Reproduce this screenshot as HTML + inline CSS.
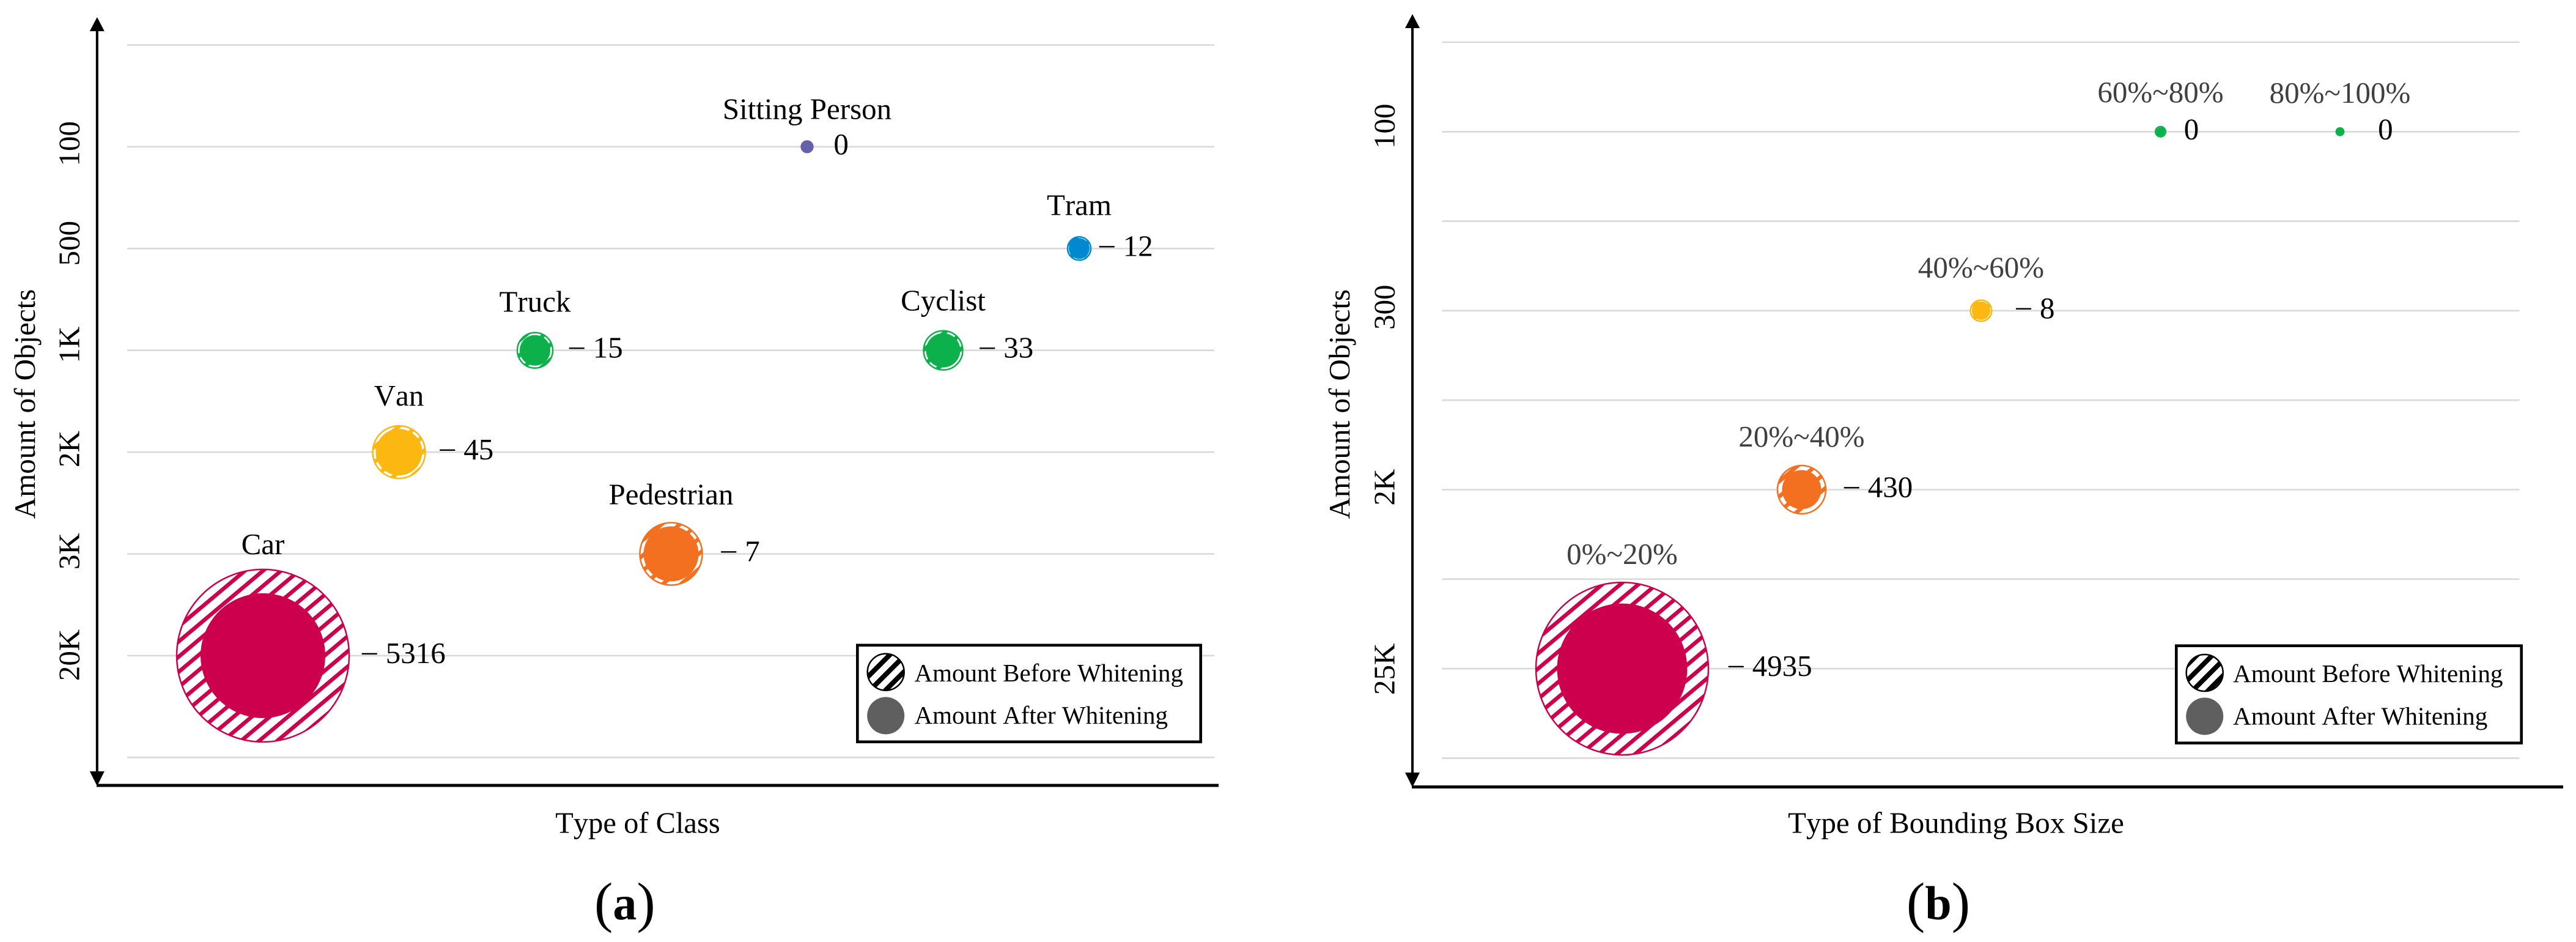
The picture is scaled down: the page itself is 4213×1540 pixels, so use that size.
<!DOCTYPE html>
<html lang="en">
<head>
<meta charset="utf-8">
<title>Amount of Objects Before and After Whitening</title>
<style>
  html, body { margin: 0; padding: 0; background: #fff; }
  svg { display: block; }
  text { font-family: "Liberation Serif", "Times New Roman", serif; fill: #000; font-kerning: none; }
</style>
</head>
<body>
<svg id="figure" xmlns="http://www.w3.org/2000/svg" width="4213" height="1540" viewBox="0 0 4213 1540">
  <defs>
    <pattern id="hatch-crimson" width="19" height="20" patternUnits="userSpaceOnUse" patternTransform="rotate(50)"><rect width="19" height="20" fill="#fff"/><rect width="6.5" height="20" fill="#CC004C"/></pattern>
    <pattern id="hatch-orange" width="19" height="20" patternUnits="userSpaceOnUse" patternTransform="rotate(50)"><rect width="19" height="20" fill="#fff"/><rect width="6.5" height="20" fill="#F37021"/></pattern>
    <pattern id="hatch-yellow" width="19" height="20" patternUnits="userSpaceOnUse" patternTransform="rotate(50)"><rect width="19" height="20" fill="#fff"/><rect width="6.5" height="20" fill="#FCB711"/></pattern>
    <pattern id="hatch-green" width="19" height="20" patternUnits="userSpaceOnUse" patternTransform="rotate(50)"><rect width="19" height="20" fill="#fff"/><rect width="6.5" height="20" fill="#0DB14B"/></pattern>
    <pattern id="hatch-blue" width="19" height="20" patternUnits="userSpaceOnUse" patternTransform="rotate(50)"><rect width="19" height="20" fill="#fff"/><rect width="6.5" height="20" fill="#0089D0"/></pattern>
    <pattern id="hatch-purple" width="19" height="20" patternUnits="userSpaceOnUse" patternTransform="rotate(50)"><rect width="19" height="20" fill="#fff"/><rect width="6.5" height="20" fill="#6460AA"/></pattern>
    <pattern id="hatch-black" width="18" height="20" patternUnits="userSpaceOnUse" patternTransform="rotate(45)"><rect width="18" height="20" fill="#fff"/><rect width="8" height="20" fill="#000"/></pattern>
  </defs>

  <g id="panel-a">
    <g id="a-grid"></g>
    <g id="a-ticks"></g>
    <g>
      <line x1="158.8" y1="40" x2="158.8" y2="1270" stroke="#000" stroke-width="4"/>
      <polygon points="158.8,28 146.8,51 170.8,51" fill="#000"/>
      <polygon points="158.8,1285 146.8,1261 170.8,1261" fill="#000"/>
    </g>
    <line x1="158" y1="1284" x2="1993" y2="1284" stroke="#000" stroke-width="5"/>
    <text transform="translate(57,660.5) rotate(-90)" text-anchor="middle" font-size="49">Amount of Objects</text>
    <text x="1043" y="1361.5" text-anchor="middle" font-size="48.5">Type of Class</text>
    <g id="a-bubbles"></g>
    <g>
      <rect x="1402.3" y="1054.8" width="561.4" height="158" fill="#fff" stroke="#000" stroke-width="4.6"/>
      <g>
        <circle cx="1448.7" cy="1098.7" r="30" fill="url(#hatch-black)" stroke="#000" stroke-width="2.5"/>
        <text x="1495.5" y="1113.8" font-size="41">Amount Before Whitening</text>
      </g>
      <g>
        <circle cx="1448.7" cy="1170" r="30.5" fill="#5F5F5F"/>
        <text x="1495.5" y="1183" font-size="41">Amount After Whitening</text>
      </g>
    </g>
    <text x="972" y="1506"><tspan font-size="91">(</tspan><tspan font-size="78" font-weight="bold" dy="-3">a</tspan><tspan font-size="91" dy="3">)</tspan></text>
  </g>

  <g id="panel-b">
    <g id="b-grid"></g>
    <g id="b-ticks"></g>
    <g>
      <line x1="2310" y1="35" x2="2310" y2="1272" stroke="#000" stroke-width="4"/>
      <polygon points="2310,23 2298,46 2322,46" fill="#000"/>
      <polygon points="2310,1287 2298,1263 2322,1263" fill="#000"/>
    </g>
    <line x1="2309" y1="1286.5" x2="4192" y2="1286.5" stroke="#000" stroke-width="5"/>
    <text transform="translate(2207,660.7) rotate(-90)" text-anchor="middle" font-size="49">Amount of Objects</text>
    <text x="3199" y="1361.5" text-anchor="middle" font-size="49">Type of Bounding Box Size</text>
    <g id="b-bubbles"></g>
    <g>
      <rect x="3559.3" y="1055.7" width="564.4" height="159" fill="#fff" stroke="#000" stroke-width="4.6"/>
      <g>
        <circle cx="3605.7" cy="1100" r="30" fill="url(#hatch-black)" stroke="#000" stroke-width="2.5"/>
        <text x="3652" y="1114.8" font-size="41.2">Amount Before Whitening</text>
      </g>
      <g>
        <circle cx="3605.7" cy="1171" r="30.5" fill="#5F5F5F"/>
        <text x="3652" y="1184.6" font-size="41.2">Amount After Whitening</text>
      </g>
    </g>
    <text x="3118" y="1506"><tspan font-size="91">(</tspan><tspan font-size="78" font-weight="bold" dy="-3">b</tspan><tspan font-size="91" dy="3">)</tspan></text>
  </g>
</svg>

<script>
// Panel (a): object class data
const classCategories = ["Car", "Van", "Truck", "Pedestrian", "Sitting Person", "Cyclist", "Tram"];
const classLevels = ["20K", "2K", "1K", "3K", "100", "1K", "500"];
const classBefore = [24544, 2283, 1038, 3211, 109, 1264, 446];
const classAfter = [12844, 1783, 772, 2500, 109, 968, 357];
const classChanges = [5316, 45, 15, 7, 0, 33, 12];
const classTicks = ["", "100", "500", "1K", "2K", "3K", "20K", ""];

// Panel (b): bounding box size data
const sizeCategories = ["0%~20%", "20%~40%", "40%~60%", "60%~80%", "80%~100%"];
const sizeLevels = ["25K", "2K", "300", "100", "100"];
const sizeBefore = [24544, 1926, 369, 85, 47];
const sizeAfter = [13992, 1264, 278, 60, 31];
const sizeChanges = [4935, 430, 8, 0, 0];
const sizeTicks = ["", "100", "", "300", "", "2K", "", "25K", ""];

// Styling and label placement, kept apart from the data
const classHatch = ["crimson", "yellow", "green", "orange", "purple", "green", "blue"];
const sizeHatch = ["crimson", "orange", "yellow", "green", "green"];
const hatchColors = { crimson: "#CC004C", orange: "#F37021", yellow: "#FCB711", green: "#0DB14B", blue: "#0089D0", purple: "#6460AA" };
const classTextNudges = { valueDx: [-4, -1, 2, 6, 9, 3, -11], nameDy: [7, -1, -2, 2, -4, -1, -4], tickDy: [0, -5, -8.6, -9, -5, -4.3, -1, 0] };
const sizeTextNudges = { valueDx: [8, 5, 15, 5, 31], nameDy: [2, 1, -5, -8, -9], tickDy: [0, -9, 0, -5.6, 0, -4, 0, 0.7, 0] };

const SVG_NS = "http://www.w3.org/2000/svg";

function slug(s) {
  return String(s).toLowerCase().replace(/[^a-z0-9]+/g, "-").replace(/^-|-$/g, "");
}

function svgEl(tag, attrs, parent) {
  const el = document.createElementNS(SVG_NS, tag);
  Object.keys(attrs).forEach(function (k) { el.setAttribute(k, attrs[k]); });
  parent.appendChild(el);
  return el;
}

// Band axis for the categories, ordinal axis for the amount levels, sqrt scale for bubble size.
function makeXScale(x0, step) {
  return function (i) { return x0 + step * i; };
}
function makeYScale(ticks, y0, step) {
  return function (level) { return y0 + step * ticks.indexOf(level); };
}
function radiusScale(amount) {
  return 0.9 * Math.sqrt(amount);
}

function drawPanel(cfg) {
  const gridG = document.getElementById(cfg.prefix + "-grid");
  const tickG = document.getElementById(cfg.prefix + "-ticks");
  const bubbleG = document.getElementById(cfg.prefix + "-bubbles");
  const xScale = makeXScale(cfg.x0, cfg.xStep);
  const yScale = makeYScale(cfg.ticks, cfg.y0, cfg.yStep);

  cfg.ticks.forEach(function (label, i) {
    const y = cfg.y0 + cfg.yStep * i;
    const grid = svgEl("line", { x1: cfg.gridX1, x2: cfg.gridX2, y1: y, y2: y, stroke: "#D9D9D9", "stroke-width": 2.6 }, gridG);
    
    
    if (label) {
      const tick = svgEl("text", { transform: "translate(" + cfg.tickX + "," + (y + cfg.nudges.tickDy[i]) + ") rotate(-90)", "text-anchor": "middle", "font-size": 49 }, tickG);
      tick.textContent = label;
      
      
    }
  });

  cfg.categories.forEach(function (name, i) {
    const cx = xScale(i);
    const cy = yScale(cfg.levels[i]);
    const rBefore = radiusScale(cfg.before[i]);
    const rAfter = radiusScale(cfg.after[i]);
    const hatch = cfg.hatch[i];
    const key = slug(name);

    const g = svgEl("g", {}, bubbleG);
    
    

    const outer = svgEl("circle", { cx: cx, cy: cy, r: rBefore, fill: "url(#hatch-" + hatch + ")", stroke: hatchColors[hatch], "stroke-width": 2.5 }, g);
    
    

    const inner = svgEl("circle", { cx: cx, cy: cy, r: rAfter, fill: hatchColors[hatch] }, g);
    
    

    const nameLabel = svgEl("text", { x: cx, y: cy - rBefore - 32 + cfg.nudges.nameDy[i], "text-anchor": "middle", "font-size": 49, style: "fill:" + cfg.nameColor }, g);
    nameLabel.textContent = name;
    
    

    const change = cfg.changes[i];
    const valueLabel = svgEl("text", { x: cx + rBefore + 25 + cfg.nudges.valueDx[i], y: cy + 12, "font-size": 49 }, g);
    
    
    if (change === 0) {
      valueLabel.textContent = "0";
    } else {
      const dash = svgEl("tspan", { dy: -4 }, valueLabel);
      dash.textContent = "\u2013";
      const digits = svgEl("tspan", { dy: 4, dx: 2 }, valueLabel);
      digits.textContent = " " + change;
    }
  });
}

drawPanel({
  prefix: "a", categories: classCategories, levels: classLevels, before: classBefore, after: classAfter,
  changes: classChanges, ticks: classTicks, hatch: classHatch, nudges: classTextNudges,
  x0: 430, xStep: 222.5, y0: 73.5, yStep: 166.4, gridX1: 208, gridX2: 1986, tickX: 129.5, nameColor: "#000"
});
drawPanel({
  prefix: "b", categories: sizeCategories, levels: sizeLevels, before: sizeBefore, after: sizeAfter,
  changes: sizeChanges, ticks: sizeTicks, hatch: sizeHatch, nudges: sizeTextNudges,
  x0: 2653, xStep: 293.5, y0: 69, yStep: 146.3, gridX1: 2358.4, gridX2: 4120.5, tickX: 2280.7, nameColor: "#404040"
});
</script>
</body>
</html>
